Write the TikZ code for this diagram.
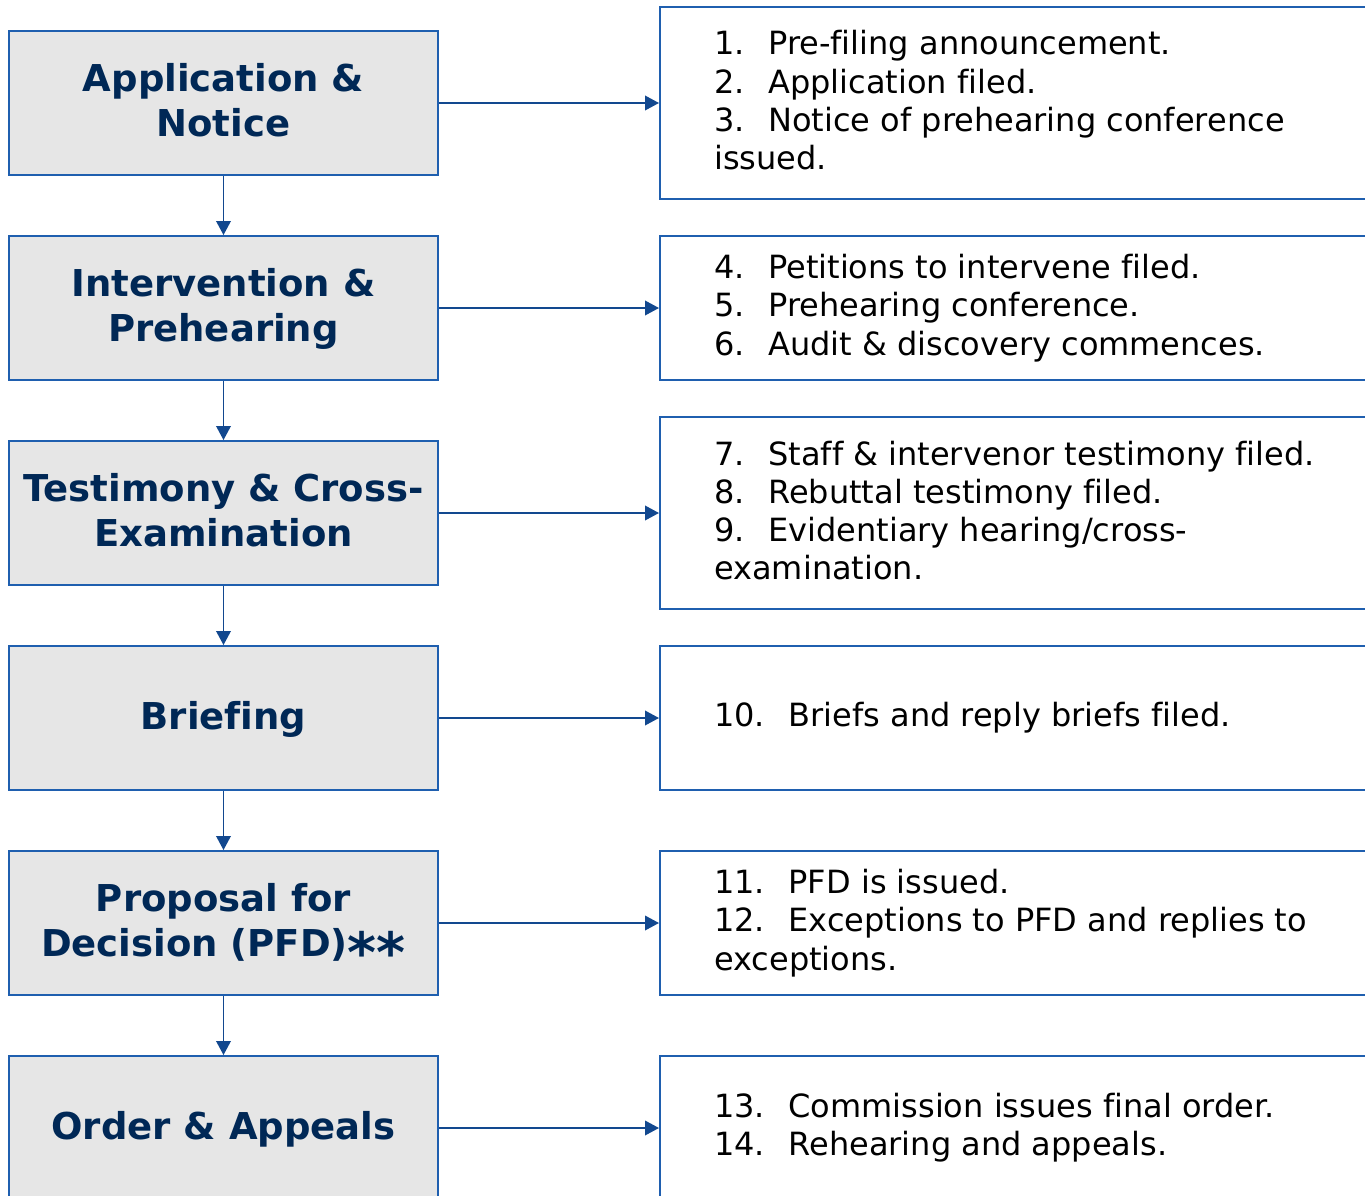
\documentclass[tikz,border=0pt]{standalone}
\usepackage{graphicx}
\usepackage{fontspec}
\setmainfont[Ligatures=CommonOff]{DejaVu Sans}
\usetikzlibrary{arrows.meta}
\definecolor{boxblue}{HTML}{1F5FAF}
\definecolor{arrblue}{HTML}{12488F}
\definecolor{navy}{HTML}{002856}
\definecolor{boxgray}{HTML}{E6E6E6}
\newcommand\itm[2]{#1\hspace{17.6pt}#2}
\newcommand\bigast{\raisebox{-0.42em}[0.72em][0pt]{\scalebox{1.5}{*}}}
\newcommand\hstrut{\rule{0pt}{23.5pt}}
\newcommand\dstrut{\rule[-6.94pt]{0pt}{6.94pt}}
\tikzset{
  stage/.style={draw=boxblue, line width=1.5pt, fill=boxgray, minimum width=321.75pt, minimum height=108pt,
    inner sep=0pt},
  stagetext/.style={inner sep=0pt, align=center, text=navy, font=\fontsize{27.75}{33.75}\selectfont\bfseries},
  detail/.style={draw=boxblue, line width=1.5pt, fill=white, minimum width=555pt, inner sep=0pt},
  detailtext/.style={inner sep=0pt, align=left, anchor=west, text=black,
    font=\fontsize{24}{28.7}\selectfont},
  tall/.style={minimum height=144pt},
  short/.style={minimum height=108pt},
  conn/.style={draw=arrblue, line width=1.1pt, -{Triangle[length=10.5pt,width=11pt]}, color=arrblue}
}
\begin{document}
\begin{tikzpicture}[x=0.75pt,y=-0.75pt]
\useasboundingbox (0,0) rectangle (1365,1196);
\clip (0,0) rectangle (1365,1196);
% stage boxes
\node[stage] (L1) at (223.5,103) {};
\node[stage] (L2) at (223.5,308) {};
\node[stage] (L3) at (223.5,513) {};
\node[stage] (L4) at (223.5,718) {};
\node[stage] (L5) at (223.5,923) {};
\node[stage] (L6) at (223.5,1128) {};
\node[stagetext] (T1) at (L1.center) {\hstrut Application \&\\Notice\dstrut};
\node[stagetext] (T2) at (L2.center) {\hstrut Intervention \&\\Prehearing\dstrut};
\node[stagetext] (T3) at (L3.center) {\hstrut Testimony \& Cross-\\Examination\dstrut};
\node[stagetext] (T4) at (L4.center) {\hstrut Briefing\dstrut};
\node[stagetext] (T5) at (L5.center) {\hstrut Proposal for\\Decision (PFD)\bigast\bigast\dstrut};
\node[stagetext] (T6) at (L6.center) {\hstrut Order \& Appeals\dstrut};
% detail boxes
\node[detail,tall]  (R1) at (1030,103) {};
\node[detail,short] (R2) at (1030,308) {};
\node[detail,tall]  (R3) at (1030,513) {};
\node[detail,short] (R4) at (1030,718) {};
\node[detail,short] (R5) at (1030,923) {};
\node[detail,short] (R6) at (1030,1128) {};
\node[detailtext] (D1) at ([xshift=41.25pt,yshift=1.9pt]R1.west) {\itm{1.}{Pre-filing announcement.}\\\itm{2.}{Application filed.}\\\itm{3.}{Notice of prehearing conference}\\issued.};
\node[detailtext] (D2) at ([xshift=41.25pt]R2.west) {\itm{4.}{Petitions to intervene filed.}\\\itm{5.}{Prehearing conference.}\\\itm{6.}{Audit \& discovery commences.}};
\node[detailtext] (D3) at ([xshift=41.25pt,yshift=1.9pt]R3.west) {\itm{7.}{Staff \& intervenor testimony filed.}\\\itm{8.}{Rebuttal testimony filed.}\\\itm{9.}{Evidentiary hearing/cross-}\\examination.};
\node[detailtext] (D4) at ([xshift=41.25pt]R4.west) {\itm{10.}{Briefs and reply briefs filed.}};
\node[detailtext] (D5) at ([xshift=41.25pt]R5.west) {\itm{11.}{PFD is issued.}\\\itm{12.}{Exceptions to PFD and replies to}\\exceptions.};
\node[detailtext] (D6) at ([xshift=41.25pt]R6.west) {\itm{13.}{Commission issues final order.}\\\itm{14.}{Rehearing and appeals.}};
% connectors
\foreach \i in {1,...,6} {\draw[conn] (L\i.east) -- (R\i.west);}
\foreach \i/\j in {1/2,2/3,3/4,4/5,5/6} {\draw[conn] (L\i.south) -- (L\j.north);}
\end{tikzpicture}
\end{document}
